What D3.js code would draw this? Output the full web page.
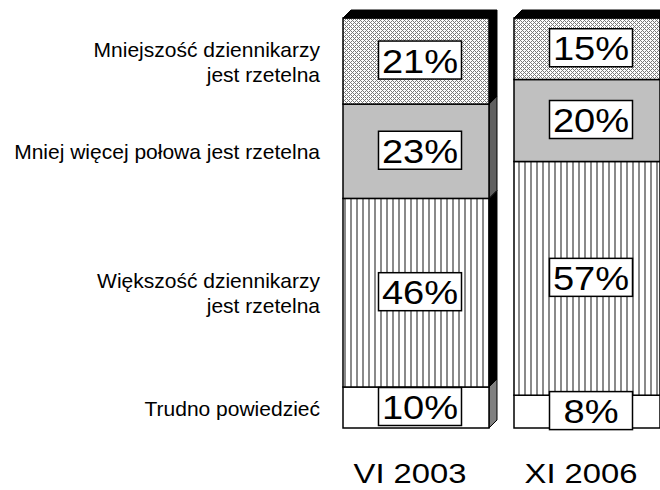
<!DOCTYPE html>
<html>
<head>
<meta charset="utf-8">
<script src="https://cdn.jsdelivr.net/npm/d3@7"></script>
<style>
  body { margin: 0; background: #fff; }
  svg { display: block; font-family: "Liberation Sans", Arial, sans-serif; }
</style>
</head>
<body>
<svg id="chart" width="660" height="490"></svg>
<script>
// survey periods (x) and answer categories, bottom to top
const periods = ['VI 2003', 'XI 2006'];
const categories = ['trudno', 'wiekszosc', 'polowa', 'mniejszosc'];
const categoryLabels = [
  ['Trudno powiedzieć'],
  ['Większość dziennikarzy', 'jest rzetelna'],
  ['Mniej więcej połowa jest rzetelna'],
  ['Mniejszość dziennikarzy', 'jest rzetelna']
];
const trudno = [10, 8];
const wiekszosc = [46, 57];
const polowa = [23, 20];
const mniejszosc = [21, 15];

const depth = 8;

const rows = periods.map((p, i) => ({
  period: p,
  trudno: trudno[i],
  wiekszosc: wiekszosc[i],
  polowa: polowa[i],
  mniejszosc: mniejszosc[i]
}));

const svg = d3.select('#chart');

// patterns
const defs = svg.append('defs');
const dots = defs.append('pattern')
  .attr('id', 'pat-dots')
  .attr('patternUnits', 'userSpaceOnUse')
  .attr('width', 4).attr('height', 4);
dots.append('rect').attr('width', 4).attr('height', 4).attr('fill', '#fff');
[[0, 0], [1, 1], [2, 2], [3, 3], [1, 3], [3, 1]].forEach(([px, py]) => {
  dots.append('rect').attr('x', px).attr('y', py)
    .attr('width', 1).attr('height', 1).attr('fill', '#7a7a7a');
});

const vlines = defs.append('pattern')
  .attr('id', 'pat-vlines')
  .attr('patternUnits', 'userSpaceOnUse')
  .attr('width', 6).attr('height', 6);
vlines.append('rect').attr('width', 6).attr('height', 6).attr('fill', '#fff');
vlines.append('rect').attr('x', 2).attr('width', 2).attr('height', 6).attr('fill', '#8a8a8a');

const frontFill = {
  trudno: '#ffffff',
  wiekszosc: 'url(#pat-vlines)',
  polowa: '#c0c0c0',
  mniejszosc: 'url(#pat-dots)'
};
const sideFill = {
  trudno: '#808080',
  wiekszosc: '#000000',
  polowa: '#606060',
  mniejszosc: '#000000'
};

const x = d3.scaleBand()
  .domain(periods)
  .range([343, 660])
  .paddingInner(0.1462)
  .paddingOuter(0);

const y = d3.scaleLinear()
  .domain([0, 100])
  .range([428, 18]);

const stacked = d3.stack().keys(categories)(rows);

const bw = x.bandwidth();

const series = svg.append('g').selectAll('g.series')
  .data(stacked)
  .join('g')
  .attr('class', 'series');

// side faces
series.selectAll('path.side')
  .data(s => s.map(d => ({ key: s.key, d })))
  .join('path')
  .attr('class', 'side')
  .attr('d', ({ d }) => {
    const x1 = x(d.data.period) + bw;
    const y0 = y(d[0]), y1 = y(d[1]);
    return `M${x1},${y1}L${x1 + depth},${y1 - depth}L${x1 + depth},${y0 - depth}L${x1},${y0}Z`;
  })
  .attr('fill', o => sideFill[o.key])
  .attr('stroke', '#000')
  .attr('stroke-width', 1);

// front faces
series.selectAll('rect.front')
  .data(s => s.map(d => ({ key: s.key, d })))
  .join('rect')
  .attr('class', 'front')
  .attr('x', ({ d }) => x(d.data.period))
  .attr('y', ({ d }) => y(d[1]))
  .attr('width', bw)
  .attr('height', ({ d }) => y(d[0]) - y(d[1]))
  .attr('fill', o => frontFill[o.key])
  .attr('stroke', '#000')
  .attr('stroke-width', 1.5);

// top faces
const topSeries = stacked[stacked.length - 1];
svg.append('g').selectAll('path.topface')
  .data(topSeries)
  .join('path')
  .attr('class', 'topface')
  .attr('d', d => {
    const x0 = x(d.data.period), yt = y(d[1]);
    return `M${x0},${yt}L${x0 + depth},${yt - depth}L${x0 + bw + depth},${yt - depth}L${x0 + bw},${yt}Z`;
  })
  .attr('fill', '#000')
  .attr('stroke', '#000');

// value boxes
const labels = svg.append('g').selectAll('g.val')
  .data(stacked.flatMap(s => s.map(d => d)))
  .join('g')
  .attr('class', 'val')
  .attr('transform', d => `translate(${x(d.data.period) + bw / 2 + 4},${(y(d[0]) + y(d[1])) / 2 - 1})`);

labels.append('rect')
  .attr('x', -41.5).attr('y', -19)
  .attr('width', 83).attr('height', 38)
  .attr('fill', '#fff')
  .attr('stroke', '#000')
  .attr('stroke-width', 1.5);

labels.append('text')
  .attr('transform', 'translate(0,12.5) scale(1.12,1)')
  .attr('text-anchor', 'middle')
  .attr('font-size', 34)
  .attr('fill', '#000')
  .text(d => `${d[1] - d[0]}%`);

// category labels on the left, next to first bar
const first = stacked.map(s => s[0]);
const catG = svg.append('g').selectAll('text.cat')
  .data(first.map((d, i) => ({ d, lines: categoryLabels[i] })))
  .join('text')
  .attr('class', 'cat')
  .attr('text-anchor', 'end')
  .attr('font-size', 21)
  .attr('fill', '#000')
  .attr('y', ({ d, lines }) => (y(d[0]) + y(d[1])) / 2 + 8 - (lines.length - 1) * 12.5);

catG.selectAll('tspan')
  .data(o => o.lines)
  .join('tspan')
  .attr('x', 320)
  .attr('dy', (t, i) => i === 0 ? 0 : 25)
  .text(t => t);

// period axis labels
svg.append('g').selectAll('text.period')
  .data(periods)
  .join('text')
  .attr('class', 'period')
  .attr('transform', p => `translate(${x(p) + bw / 2 - 6},483) scale(1.17,1)`)
  .attr('text-anchor', 'middle')
  .attr('font-size', 28)
  .attr('fill', '#000')
  .text(p => p);
</script>
</body>
</html>
